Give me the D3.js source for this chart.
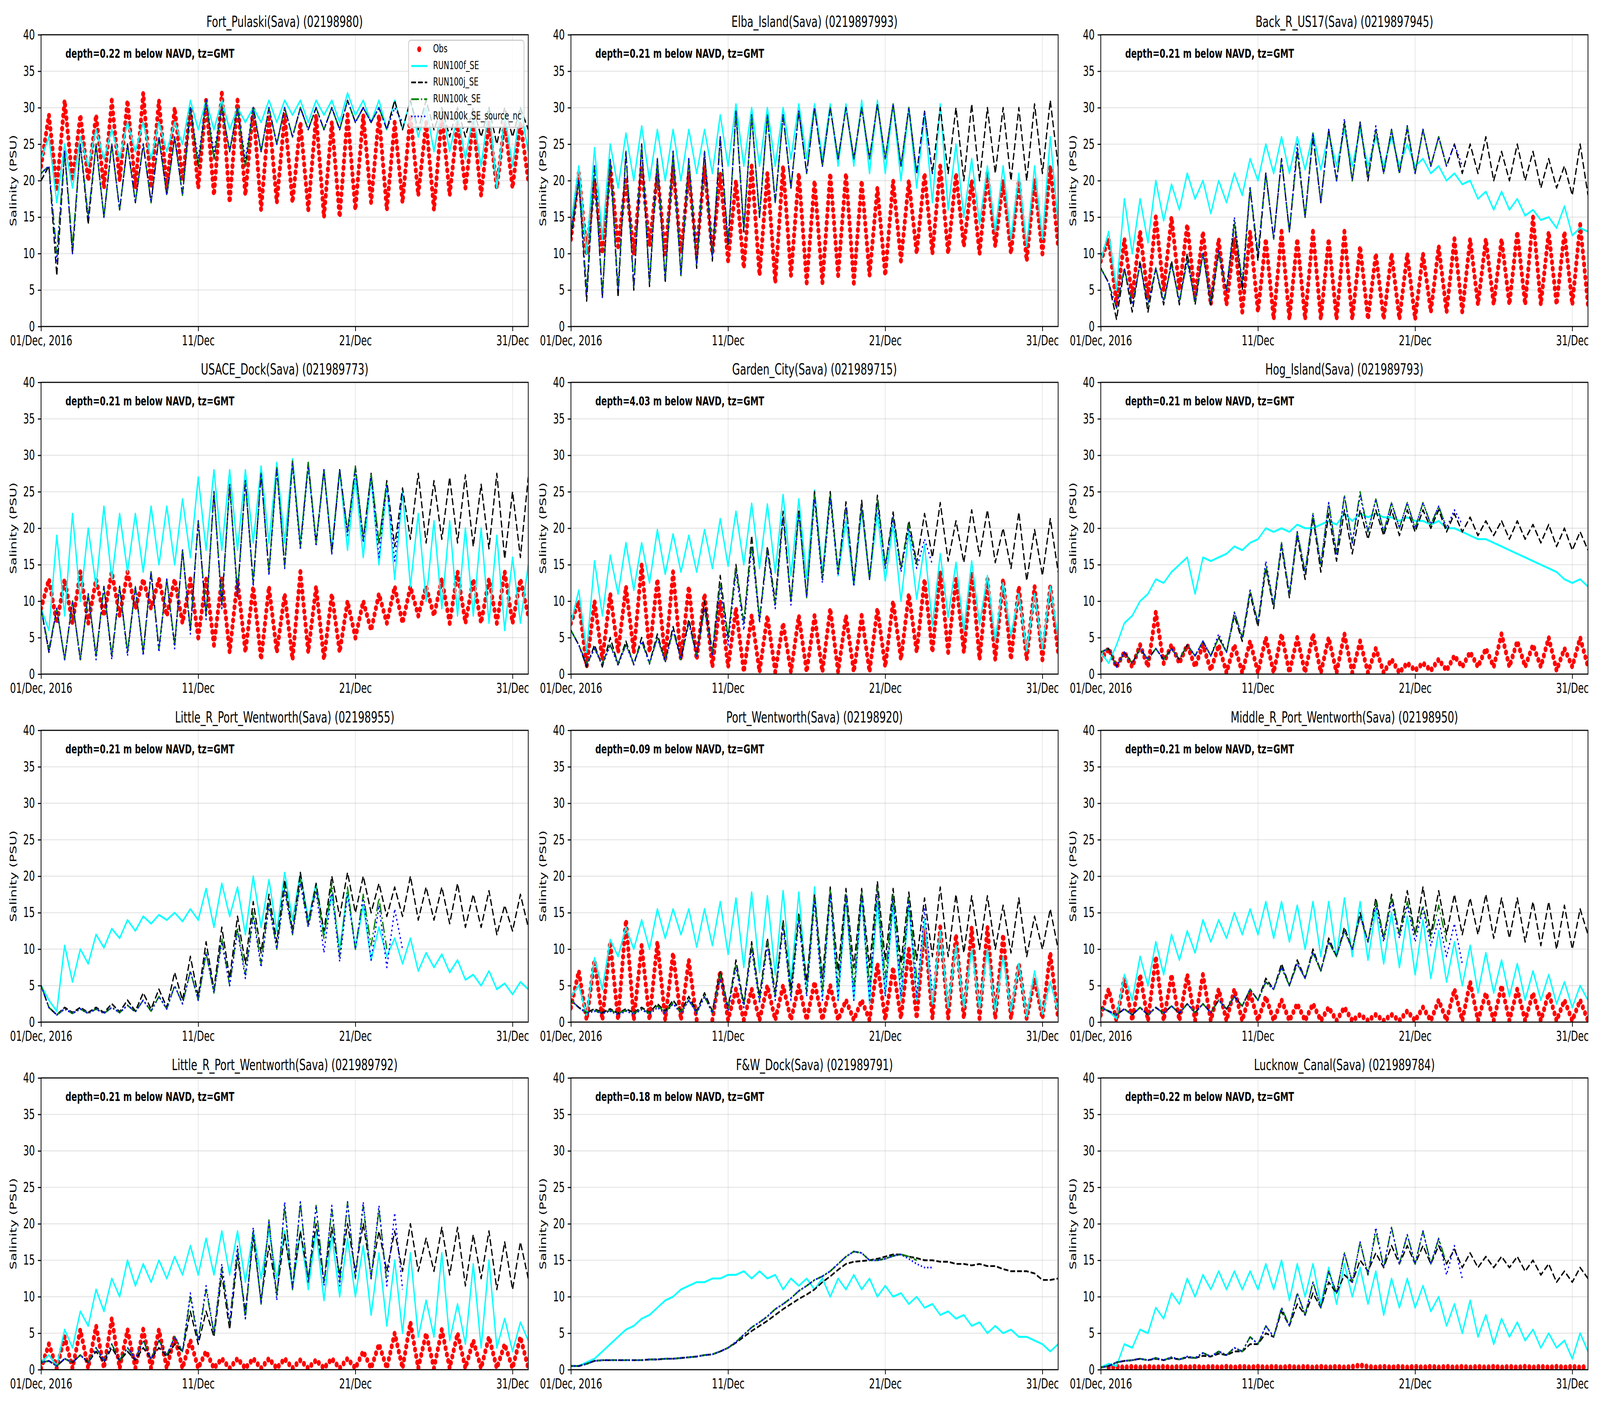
<!DOCTYPE html>
<html>
<head>
<meta charset="utf-8">
<script src="https://cdn.jsdelivr.net/npm/d3@7"></script>
<style>
  html, body { margin: 0; padding: 0; background: #fff; overflow: hidden; }
  svg { display: block; width: 100vw; height: 100vh; }
</style>
</head>
<body>
<div id="canvas"></div>
<script>
// titles, notes and tick labels
const stationTitles = [
  'Fort_Pulaski(Sava) (02198980)', 'Elba_Island(Sava) (0219897993)', 'Back_R_US17(Sava) (0219897945)',
  'USACE_Dock(Sava) (021989773)', 'Garden_City(Sava) (021989715)', 'Hog_Island(Sava) (021989793)',
  'Little_R_Port_Wentworth(Sava) (02198955)', 'Port_Wentworth(Sava) (02198920)', 'Middle_R_Port_Wentworth(Sava) (02198950)',
  'Little_R_Port_Wentworth(Sava) (021989792)', 'F&W_Dock(Sava) (021989791)', 'Lucknow_Canal(Sava) (021989784)'
]
const depthNotes = [
  'depth=0.22 m below NAVD, tz=GMT', 'depth=0.21 m below NAVD, tz=GMT', 'depth=0.21 m below NAVD, tz=GMT',
  'depth=0.21 m below NAVD, tz=GMT', 'depth=4.03 m below NAVD, tz=GMT', 'depth=0.21 m below NAVD, tz=GMT',
  'depth=0.21 m below NAVD, tz=GMT', 'depth=0.09 m below NAVD, tz=GMT', 'depth=0.21 m below NAVD, tz=GMT',
  'depth=0.21 m below NAVD, tz=GMT', 'depth=0.18 m below NAVD, tz=GMT', 'depth=0.22 m below NAVD, tz=GMT'
]
const seriesNames = ['Obs', 'RUN100f_SE', 'RUN100j_SE', 'RUN100k_SE', 'RUN100k_SE_source_nc']
const tickDays = [0, 10, 20, 30]
const tickLabels = ['01/Dec, 2016', '11/Dec', '21/Dec', '31/Dec']
const yTicks = [0, 5, 10, 15, 20, 25, 30, 35, 40]

// salinity (PSU), one reading every 12 h from 01/Dec 00:00
// Fort_Pulaski
const fpObs = [22,29,19,31,20,29,20,29,19,31, 20,31,19,32,19,31,19,30,20,30, 19,31,18,32,17,31,18,30,16,29, 17,29,17,28,16,29,15,28,15,29, 16,29,17,29,16,28,17,29,18,28, 16,29,18,28,19,28,18,28,19,28, 19,28,20]
const fpF = [23,26,17,25,19,26,22,27,23,27, 23,28,24,28,23,28,24,28,25,31, 27,31,27,31,27,30,28,30,28,31, 28,31,29,31,28,31,29,31,28,32, 29,31,28,31,27,31,27,31,26,30, 24,30,24,29,23,29,22,30,19,29, 22,30,24]
const fpJ = [20,22,7,24,10,25,14,25,15,25, 16,25,17,25,17,26,18,26,18,30, 22,31,23,30,24,30,22,30,24,30, 25,30,26,30,27,30,27,30,27,31, 28,30,28,30,27,31,27,31,27,31, 27,30,26,30,26,30,26,30,25,30, 26,30,27]
const fpK = [21,22,10,24,11,25,15,25,15,25, 16,25,17,25,17,26,18,26,18,30, 22,31,23,30,24,30,22,30,24,30, 25,30,26,30,27,30,27,30,27,31, 28,30,28,30,27]
const fpS = [21,22,9,24,10,25,15,25,15,25, 16,25,17,25,17,26,18,26,18,30, 23,31,24,30,24,30,23,30,24,30, 25,30,26,30,27,30,27,30,27,31, 28,30,28,30,27,30,28]
// Elba_Island
const elObs = [12,21,10,20,10,22,11,20,10,22, 11,21,10,22,10,21,10,22,10,21, 9,20,8,22,7,21,6,22,7,21, 6,20,6,21,7,21,6,20,7,19, 7,20,9,20,10,21,10,22,10,21, 11,20,10,21,11,20,10,20,9,20, 10,22,11]
const elF = [14,22,10,24.5,12,25,19,26.5,20,27.5, 20,27,20,27,20,27,21,27,21,29, 22,30.5,22,30,22,30,22,30,23,30.5, 23,30.5,23,30.5,22,30.5,22,31,21,31, 21,30.5,20,30,19,29,17,30.5,16,25, 15,23,14,22,13,22,12,21,11,22, 12,26,14]
const elJ = [12,20,3.5,22,4,23,4,24,5,25, 5.5,23,6,24,7,23,8,24,9,26, 11,29.5,13,29,15,29,17,29,19,29.5, 21,30,22,30,23,30,23,30,23,30.5, 23,30.5,22,30,21,29.5,21,30,21,30, 20,30.5,20,30,21,30,20,30,20,30.5, 21,31,22]
const elK = [13,20,5,22,4.5,23,5,24,5.5,25, 6,23,6.5,24,7,23,8.5,24,9.5,26, 11.5,29.5,13.5,29,15,29,17,29,19,29.5, 21,30,22,30,23,30,23,30,23,30.5, 23,30.5,22,30,21]
const elS = [13,20,4.5,22,4,23,5,24,5.5,25, 6,23,6.5,24,7,23,8.5,24,9.5,26, 11.5,29.5,13.5,29,15,29,17,29,19,29.5, 21,30,22,30,23,30,23,30,23,30.5, 23,30.5,22,30,21,29.5,21]
// Back_R_US17
const brObs = [9,12,3,12,4,13,4,15,5,15, 5,14,4,13,3,12,3,12,2,13, 2,12,1,13,1,12,1,13,1,12, 1,13,1,11,1,10,1,10,1,10, 1,10,2,11,2,12,2,12,3,12, 3,12,3,13,3,15,3,13,3,13, 3,14,3]
const brF = [9,13,5,17.5,10,17.5,11.5,20,14.5,19.5, 16,21,17.5,20,15.5,20,17,21,18,23, 20,25,21,26,21,26,21.5,26.5,21.5,26.5, 22,27,22,27,22,26,22,26,22,25, 22,23,21,22,20,21,19.5,20,17.5,18.5, 16,18.5,16,17.5,15.2,16,14.6,15,13.5,16.5, 12.5,13.5,13]
const brJ = [8,6,1,8,2,9,2,8,3,9, 3,10,3,10,3,10,5,14,5,19, 9,21,12,23,13,24,15,26,17,27, 20,28,20,28,20,27,21,27,21,27, 21,27,22,26,22,25,21,25,21,26, 20,24,20,25,20,24,19,23,19,22, 18,25,18]
const brK = [8,6,2.5,8,3,8.5,3,8,3.5,8.5, 3.5,9,3.5,10,3.5,10,5,14.5,6,19, 10,21,12,23,13,24.5,15,26.5,17,27, 20,28,20,28,20.5,27,21,27,21,27.5, 21,27,22,26,22]
const brS = [8,6,2.5,8,3,8.5,3,8,3.5,8.5, 3.5,9,3.5,10,3.5,10.5,5,15,6,19, 10,21,12,23,13,25,15,26.5,17,27, 20,28.5,20,28,20.5,27.5,21,27,21,27.5, 21,27,22,26,22,25,22]
// USACE_Dock
const udObs = [9,13,7,13,7,14,7,13,8,14, 8,14,9,13,9,13,8,13,7,13, 5,13,4,13,3,13,3,12,2,12, 3,11,2,14,3,12,2,11,3,10, 5,10,6,11,7,12,7,12,8,12, 8,13,7,14,7,13,7,13,7,14, 7,13,8]
const udF = [9,6,19,8,22,10,20,12,23,13, 22,14,22,14,23,15,23,15,24,16, 27,17,28,17,28,17,28,18,28.5,18, 29,18,29.5,18,28.5,18,28,17,28,17, 27,16,27,15,26,13,25,12,22,10, 21,9,21,8,20,8,20,7,19,6, 16,7,15]
const udJ = [9,3,9,2,10,2,11,2.5,12,2.5, 12,3,12,3,14,3.5,13,4,17,6, 21,8,25,9.5,26,11,26.5,12.5,27.5,14, 28.3,14.8,29.2,17.5,29,18,28,16.6,28,19.5, 28.5,18.5,27.5,18,26.5,17.5,25.5,18.5,27.5,18, 26.5,18.5,27,18,27.3,17.5,26,17.2,27.5,15.8, 25,16,27]
const udK = [9,3.5,9,2,10,2,11,2.5,12,2.5, 12,3,12,3,14,3.5,13,4,17,6, 21,8,25,9.5,26,11,26.5,12.5,27.5,14, 28.3,14.8,29.2,17.5,29,18,28,17,28,19.5, 28.5,18.5,27.5,18,26.5]
const udS = [9,3,9,2,10,1.8,11,2,12,2, 12,2.5,12,2.5,14,3,13,3.5,17,5.5, 21,7.5,25,9,26,10.5,26.5,12,27.5,13.5, 28,14.5,28.8,17,28.5,17.5,28,16.5,28,19, 28,18,27,16,26,15.5,25]
// Garden_City
const gcObs = [7,10,1,10,2,11,3,12,3,15, 3,13,2,14,2,12,2,11,1,10, 1,9,0.3,8,0.3,8,0.3,7,0.3,8, 0.3,8,0.3,9,0.3,8,0.3,8,0.3,9, 1,10,2,11,3,13,3,14,3,13, 3,14,2,13,2,13,2,12,2,12, 2,12,3]
const gcF = [7,11.5,3,15.5,8,16.3,11,18,11.5,18, 12.5,19.8,13.7,19.2,14,19,14,19.8,14.5,21.3, 14.8,22.3,15,23.4,14.5,23.3,13.9,24.6,13.5,24, 13.1,25.2,14,24.8,13.5,21,12.2,22.5,13.1,22, 12.8,20.5,10,19.5,10.3,17.7,6.6,16.5,7.8,15.3, 5.9,15.5,6.8,13.5,4.6,12.5,5.3,11,3.2,11, 3.5,12,5]
const gcJ = [6,4,1,4,1,5,1.3,4.5,1.3,5, 1.5,5.5,1.8,6.5,2,7.5,2.5,10,3,13.5, 5,15,7,19,7.5,17.5,10,22.3,10,22.6, 10.5,25,13,25,14,23.6,12.5,23.8,13,24.5, 14.8,22.2,14.5,21,15.3,22,16,23.5,15.5,21, 15.3,22.5,16.2,22.5,15.3,20,14.5,22.2,12.8,19.8, 13.5,21.3,14]
const gcK = [6,4,1.5,3.5,1.5,4,1.5,4,1.5,4.5, 1.5,5,1.8,6,2,7,2.5,9,3,12.5, 5,14.5,7,18,7.5,17,9.5,21.5,10,22, 10.5,24.5,13,24.5,14,23,12.5,23,13,24, 14.8,21.5,14.5,20.5,15]
const gcS = [6,4,1.2,3.5,1.2,4,1.2,4,1.3,4.5, 1.4,5,1.6,6,2,7,2.5,9,2.5,12, 4,14,6,17.5,7,17,9,21.5,9.5,22, 10.5,24,12.5,24,13.5,23,12,23,13,23.5, 14.5,21.5,14,20,14.5,18.5,15]
// Hog_Island
const hiObs = [2,3.5,1,3,1,4,1,8.5,1.5,4, 1.5,4,1,4,0.5,4,0.2,4,0.2,4.5, 0.2,5,0.2,5.5,0.2,5,0.2,5.5,0.2,5, 0.2,5.5,0.2,4.5,0.2,3.5,0.2,2,0.2,1.5, 0.5,1.5,0.5,2,0.5,2.5,1,3,1,3.5, 1,5.5,1,4.5,1,4,1,5,0.5,3.5, 1,5,1]
const hiF = [3,1.5,4,7,8,10,11,13,12.5,14, 15,16,11,16,15.5,16,16.5,17.5,17,18, 18.5,20,19.5,20,19.5,20.5,20,20,20.5,21, 20.5,22,21,22,21.5,22,21.5,21.5,21,21.5, 21,21,20.5,21,20,20,19.5,19,18.5,18.5, 18,17.5,17,16.5,16,15.5,15,14.5,14,13, 12.5,13,12]
const hiJ = [3,3.5,1,3,1.5,3.5,2,3.5,2,3.5, 2,4,2.5,4.5,2.5,5,3,8,4.5,11, 6.5,14.5,9,17.5,10.5,19,13,21.5,14,22, 15.5,22.5,16.5,22.5,18.5,22.5,19,22.5,19,22.5, 19.5,22.5,20,22.5,19.5,22,19.5,21.5,19,21, 19,21,18.5,21,18.5,20.5,18,20.5,17.5,20, 17,19.5,17]
const hiK = [3,3.5,1,3,1.5,3.5,2,3.5,2,3.5, 2,4,2.5,4.5,2.5,5,3,8.5,5,11.5, 7,15,9.5,18,11,19.5,14,22,15,23.5, 16.5,24.5,18,25,19.5,24,19.5,23.5,20,23.5, 20,23.5,20.5,23,20]
const hiS = [3,3.5,1,3,1.5,3.5,2,3.5,2,3.5, 2,4,2.5,4.5,2.5,5.5,3,8.5,5,11.5, 7,15.5,9.5,18,11,19.5,14,22,15,23.5, 16.5,24.5,18,24.5,19.5,24,19.5,23.5,20,23.5, 20,23.5,20.5,23,20,22.5,20.5]
// Little_R_Port_Wentworth (02198955), no observations
const lrF = [5,3,1.5,10.5,5.5,10,8,12,10.2,12.8, 11.5,14,12.5,14.5,13.5,14.7,14,15,13.8,15.5, 14,18.3,13,19,14.5,18.5,12,20,13,19.5, 12.5,20.5,14,20.5,14,19,12,17.5,10,18, 10,16,8.5,13,9,11.5,8,11.5,7,9.5, 7.5,9.3,6.8,8.5,5.8,6.5,5,7,4.5,5.3, 3.8,5.5,4.5]
const lrJ = [5,2,1,2,1.3,2,1.3,2,1.3,2.5, 1.4,3,1.5,4,1.8,4.5,2,6.8,3,9, 3.5,11,4.5,13,6,14.5,8,16.5,9.5,17.5, 11,19.5,12.5,20.5,13.5,19,12.5,20,14.5,20.5, 15,20,15,19,14.5,18.5,14.5,20,14,18.5, 14,18.5,13.5,19,13,17.5,13,18,12,16, 12.5,17.5,13]
const lrK = [5,2,1,1.8,1.2,1.8,1.2,1.8,1.2,2, 1.3,2.3,1.4,3,1.5,3.5,1.8,5,2.5,7, 3,9.5,4,11.5,5,13,6.5,15,8,16.5, 10,18.5,12,19.5,13,18.5,11.5,19,9,18.5, 10,17.5,10.5,17,10]
const lrS = [5,2,1,1.8,1.2,1.8,1.2,1.8,1.2,2, 1.3,2.3,1.4,3,1.5,3.5,1.8,5,2.5,7, 3,9.5,4,11,5,12.5,6,14.5,7.5,16, 10,18,12,19,13,18,9.5,18,8.3,17.5, 10,17,8.5,16,7.5,15.5,10]
// Port_Wentworth
const pwObs = [2,7,0.3,8.5,0.3,11,0.3,14,0.3,10.5, 0.3,11,0.3,9.5,0.3,8.5,0.3,null,0.3,7, 0.3,4.5,0.3,4.5,0.3,5,0.3,5,0.3,5, 0.3,5.5,0.3,5,0.3,3,0.3,3,0.3,8, 0.3,7.5,0.5,10,0.5,13,0.5,13,0.5,12, 0.5,13,0.5,13,0.5,12,0.5,8,0.5,6, 0.5,9.5,0.5]
const pwF = [3.5,5,1,8.8,4.5,11.3,9,13,10,14, 10,15.5,11.5,15.5,12,15.5,10.3,15.5,10.5,16.5, 9.3,17,7.5,17.8,6.8,17.3,6.5,18,5.5,17.8, 4.5,18.5,3.5,18,3,17,3,17.5,2.5,16.5, 3.7,16,3,16,3,14,2.5,12.5,2,10.5, 2,10,1.8,10,1.5,9,1.5,8,0.8,7, 1.1,5.5,1.5]
const pwJ = [3,2,1.3,1.8,1.3,1.8,1.2,1.8,1.3,2, 1.3,2.5,1.5,3,1.5,3.5,1.5,4,1.5,7, 2,8.5,2.5,11,3.5,11.5,4,14,4.5,15, 5.5,17.5,6,18.5,7,18.3,7.5,18.3,7.5,19.3, 8.5,18.3,8,17.8,8.5,17,9,18.5,9,17.5, 9.5,17.3,10,17.3,10,16,9.5,17,9,14.5, 10,15.5,10]
const pwK = [3,2,1.3,1.6,1.2,1.6,1.2,1.6,1.2,1.8, 1.2,2.2,1.4,2.6,1.4,3,1.3,3.5,1.3,6.5, 1.8,8,2.2,10.5,3,11,3.5,13.5,3.5,14.5, 4,17,4.5,18,5,17.5,5,17.8,5,18.5, 6,17.5,6,17,6]
const pwS = [3,2,1.2,1.5,1.2,1.5,1,1.5,1.1,1.7, 1.1,2,1.2,2.5,1.2,3,1.2,3.5,1.2,6, 1.5,7.5,2,10,2.5,10.5,3,13,3,14, 3.5,16.5,3,17.5,3,17.5,3,17.5,3,18, 3.5,17,3.5,16.5,3.5,15.5,4]
// Middle_R_Port_Wentworth
const mrObs = [1,4.5,0.2,6,0.2,6.5,0.2,9,0.2,6.5, 0.2,6.5,0.2,6.5,0.2,4.5,0.2,4.5,0.2,4, 0.2,3.5,0.2,3,0.2,2.5,0.2,2.5,0.2,2, 0.2,2,0.2,1,0.2,1,0.2,1,0.2,1.5, 0.2,2,0.2,3,0.2,4.5,0.2,5.5,0.2,4, 0.2,5,0.2,4.5,0.2,4,0.2,4,0.2,3, 0.2,3,0.2]
const mrF = [2,1.5,0.5,6.5,3,9,5,11,6.5,12, 8.5,12.5,9.5,14,11,14,11.5,15,12,15.5, 12,16.5,11.5,16.5,11,16,10,16.5,9,16.5, 9,17,9,16.5,8.5,15.5,8,15,7.5,14.5, 6.5,14,6,12.5,5.5,11,5,10.5,4,9.5, 4,8.5,3.5,8,3,7,3,6.5,2.5,5.5, 2,5,3]
const mrJ = [2,1.5,1,1.8,1,2,1,2,1.2,2.2, 1.2,2.5,1.3,2.5,1.3,3,1.8,3.5,2.2,4.5, 3,6,4.5,8,5,8.5,6,10,7,11.5, 9,13,10,15,11,17,11.5,17.5,12,18, 12,18.5,12,18,12,17.5,12,17,12,17.5, 11.5,17,11.5,17,11,16.5,10.5,16.5,10,16, 10,15.5,12]
const mrK = [2,1.5,1,1.8,1,2,1,2,1.2,2.2, 1.2,2.5,1.3,2.5,1.3,3,1.8,3.5,2.2,4.5, 3,5.5,4.5,7.5,5,8,6,9.5,7,11, 9,12.5,10,14.5,11,16.5,11.5,17,12,16.5, 12,16,11.5,16,11]
const mrS = [2,1.5,1,1.8,1,2,1,2,1.2,2.2, 1.2,2.5,1.3,2.5,1.3,3,1.8,3.5,2.2,4.5, 3,5.5,4.5,7.5,5,8,6,9.5,7,11, 9,12.5,10,14.5,11,16,11,16.5,11.5,16, 11,15.5,10.5,14,9,13.5,8]
// Little_R_Port_Wentworth (021989792)
const lwObs = [0.2,3.5,0.2,4.5,0.2,5.5,0.2,6,0.2,7, 0.2,5.5,0.2,5.5,0.2,5.5,0.2,4.5,0.2,4, 0.2,2.5,0.2,1.5,0.2,1.5,0.2,1.5,0.2,1.5, 0.2,1.5,0.2,1.3,0.2,1.3,0.2,1.5,0.2,1.5, 0.2,2.5,0.2,3.5,0.2,5,0.2,6.5,0.2,5, 0.2,5.5,0.2,5,0.2,4,0.2,4.5,0.2,3.5, 0.2,4.5,0.2]
const lwF = [1,2,0.5,5.5,3,8,6,11,8,12.5, 10,15,11.5,14.5,12,15,12.5,15.5,13,17, 13,18,13,19,13,19,12,19,12.5,19, 12.5,19,11,19,11,19,9.5,18.5,10,18, 10,17,7.5,16,6,15,5,16,4.5,9.5, 4.5,16,4,9,3.5,14.5,3,15,3,7, 2.5,6.5,4]
const lwJ = [1,1.2,0.5,1.5,1,2,1,2.5,1,3, 1.2,2.5,1.3,3,1.5,3,1.8,3.5,2.5,8, 3.5,8,4.5,13,5.5,15.5,8,18,9.5,17, 10.5,18.5,11.5,19,12.5,20,12,19.5,13,20, 13.5,20,13,19,13.5,19,13.5,20,13.5,18, 13.5,19.5,13,19.5,11.5,18.5,12.5,19,11,17.5, 11,17.5,12.5]
const lwK = [1,1.2,0.5,1.5,1,2,1,3,1.2,3.5, 1.3,3,1.5,4,1.5,4,2,4.5,2.5,10, 4,11,5,14,6.5,16.5,7,19,9,20.5, 10,22.5,11,23,12,22.5,12,22,12,23, 12.5,22.5,12.5,22,12]
const lwS = [1,1.2,0.5,1.5,1,2,1,3,1.2,3.5, 1.3,3,1.5,4,1.5,4,2,4.5,2.5,10.5, 4,11.5,5,14.5,6.5,17,7,19.5,9,20.5, 9.5,23,11,23,12,22.5,11.5,22.5,11.5,23, 12.5,23,12.5,22.5,11.5,21.5,11]
// F&W_Dock, no observations
const fwF = [0.5,0.5,1,1.5,2.5,3.5,4.5,5.5,6,7, 7.5,8.5,9.5,10,11,11.5,12,12,12.5,12.5, 13,13,13.5,12.5,13.5,12.5,13,11,12.5,11.5, 12.5,11,12.5,10,12.5,11,13,11,12.5,10, 11.5,10,10.5,9,10,8.5,9,7.5,8,7, 7.5,6,6.5,5,6,5,5.5,4.5,4.5,4, 3.5,2.5,3.5]
const fwJ = [0.5,0.5,0.8,1.2,1.3,1.3,1.3,1.3,1.3,1.3, 1.4,1.4,1.5,1.5,1.6,1.7,1.8,2,2.1,2.5, 3,3.7,4.5,5.3,6,6.7,7.5,8.3,9,9.7, 10.3,11,12,12.8,13.7,14.5,14.8,14.9,15,15.2, 15.5,15.8,15.8,15.5,15.3,15,15,14.8,14.8,14.5, 14.5,14.3,14.5,14.2,14.2,13.8,13.5,13.5,13.5,13.2, 12.3,12.3,12.5]
const fwK = [0.5,0.5,0.8,1.2,1.3,1.3,1.3,1.3,1.3,1.3, 1.4,1.4,1.5,1.5,1.6,1.7,1.8,2,2.1,2.5, 3,3.8,4.8,5.8,6.5,7.3,8.3,9,9.8,10.8, 11.5,12.3,12.8,13.5,14.5,15.5,16.2,16,15,15, 15.2,15.6,15.8,15.5,15]
const fwS = [0.5,0.5,0.8,1.2,1.3,1.3,1.3,1.3,1.3,1.3, 1.4,1.4,1.5,1.5,1.6,1.7,1.8,2,2.1,2.5, 3,3.8,4.8,5.8,6.5,7.3,8.3,9,9.8,10.8, 11.5,12.3,12.8,13.5,14.5,15.5,16.2,16,15,15, 15.2,15.6,15.8,15.2,14.5,14,14]
// Lucknow_Canal
const lcObs = [null,0.3,0.4,0.3,0.4,0.3,0.4,0.3,0.4,0.3, 0.4,0.3,0.4,0.3,0.4,0.3,0.4,0.3,0.4,0.3, 0.4,0.3,0.4,0.3,0.4,0.3,0.4,0.3,0.4,0.3, 0.4,0.3,0.4,0.6,0.4,0.3,0.4,0.3,0.4,0.3, 0.4,0.3,0.4,0.3,0.4,0.3,0.4,0.3,0.4,0.3, 0.4,0.3,0.4,0.3,0.4,0.3,0.4,0.3,0.4,0.3, 0.4,0.3,0.4]
const lcF = [0.3,0.8,0.5,3.5,3,5.5,5,8.5,7,10.5, 9,12.5,10,13,11,13.5,11,13.5,11,13.5, 11,14.5,11,15,9.5,14.5,10,14.5,9,14, 9,14.5,10,14,9,13.5,7.5,12.5,8.5,12.5, 8.5,11.5,8,10,6,9,5,9.5,4.5,7.5, 3.5,7,4.5,6.5,4,5.5,3,5,3,4, 1.5,5,2.5]
const lcJ = [0.3,0.5,1,1.2,1.3,1.5,1.3,1.5,1.3,1.6, 1.4,1.7,1.6,1.9,1.8,2.2,2,2.5,2.5,3.5, 3.5,5,4.5,8,6,9,7.5,10.5,8.5,12, 10.5,13,12,15,13.5,16,14,17,14.5,17, 14.5,17,14.5,17,14.5,16.5,14,16,14,15.5, 14,15.5,14,15.5,13.5,15,13,14.5,12,13.5, 12,14,12.5]
const lcK = [0.3,0.5,1,1.2,1.3,1.5,1.3,1.6,1.3,1.7, 1.4,1.8,1.6,2.3,1.8,2.5,2,3,2.5,4.5, 3.5,6,4.5,8.5,6,10.5,7.5,12,8.5,13.5, 10.5,16,12,17.5,13,19,14,19.5,14.5,18.5, 14.5,19,14.5,18,14.5]
const lcS = [0.3,0.5,1,1.2,1.3,1.5,1.3,1.6,1.3,1.7, 1.4,1.8,1.6,2.3,1.8,2.5,2,3,2.5,4.5, 3.5,6,4.5,8.5,6,10.5,7.5,12,8.5,13.5, 10.5,16,12,17.5,13,19.5,14,19.5,14.5,18.5, 14.5,19,14.5,18,13,17,12.5]

const panels = [
  { obs: fpObs, f: fpF, j: fpJ, k: fpK, s: fpS },
  { obs: elObs, f: elF, j: elJ, k: elK, s: elS },
  { obs: brObs, f: brF, j: brJ, k: brK, s: brS },
  { obs: udObs, f: udF, j: udJ, k: udK, s: udS },
  { obs: gcObs, f: gcF, j: gcJ, k: gcK, s: gcS },
  { obs: hiObs, f: hiF, j: hiJ, k: hiK, s: hiS },
  { obs: null, f: lrF, j: lrJ, k: lrK, s: lrS },
  { obs: pwObs, f: pwF, j: pwJ, k: pwK, s: pwS },
  { obs: mrObs, f: mrF, j: mrJ, k: mrK, s: mrS },
  { obs: lwObs, f: lwF, j: lwJ, k: lwK, s: lwS },
  { obs: null, f: fwF, j: fwJ, k: fwK, s: fwS },
  { obs: lcObs, f: lcF, j: lcJ, k: lcK, s: lcS }
]

const width = 6000
const height = 3600
const W = 1827
const H = 747
const colLeft = [154, 2141, 4128]
const rowTop = [89, 979, 1870, 2760]
const font = 'DejaVu Sans, sans-serif'

const start = new Date(Date.UTC(2016, 11, 1))
const timeAt = (i) => d3.utcHour.offset(start, 12 * i)

const x = d3.scaleUtc().domain([start, new Date(Date.UTC(2017, 0, 1))]).range([0, W])
const y = d3.scaleLinear().domain([0, 40]).range([H, 0])
const tickDates = tickDays.map((d) => d3.utcDay.offset(start, d))

const lineStyles = {
  f: { color: '#00ffff', dash: null, lw: 5 },
  j: { color: '#000000', dash: '18,7.5', lw: 4.6 },
  k: { color: '#008000', dash: '29,7.5,4.6,7.5', lw: 4.6 },
  s: { color: '#0000ff', dash: '4.6,7.5', lw: 4.6 },
}

const line = d3
  .line()
  .defined((v) => v != null)
  .x((v, i) => x(timeAt(i)))
  .y((v) => y(v))

// laid out in 6000x3600 units, stretched to fill the window
const svg = d3
  .select('#canvas')
  .append('svg')
  .attr('viewBox', `0 0 ${width} ${height}`)
  .attr('preserveAspectRatio', 'none')
svg.append('rect').attr('width', width).attr('height', height).attr('fill', '#fff')

panels.forEach((p, n) => {
  const left = colLeft[n % 3]
  const top = rowTop[Math.floor(n / 3)]
  const g = svg.append('g').attr('transform', `translate(${left},${top})`)

  g.append('clipPath').attr('id', `clip${n}`).append('rect').attr('width', W).attr('height', H)

  // grid
  g.append('g')
    .selectAll('line')
    .data(yTicks)
    .join('line')
    .attr('x1', 0)
    .attr('x2', W)
    .attr('y1', (d) => y(d))
    .attr('y2', (d) => y(d))
    .attr('stroke', '#b0b0b0')
    .attr('stroke-opacity', 0.3)
    .attr('stroke-width', 2.8)
  g.append('g')
    .selectAll('line')
    .data(tickDates)
    .join('line')
    .attr('x1', (d) => x(d))
    .attr('x2', (d) => x(d))
    .attr('y1', 0)
    .attr('y2', H)
    .attr('stroke', '#b0b0b0')
    .attr('stroke-opacity', 0.3)
    .attr('stroke-width', 2.8)

  const plot = g.append('g').attr('clip-path', `url(#clip${n})`)
  if (p.obs) {
    plot.append('path')
      .attr('d', line(p.obs))
      .attr('fill', 'none')
      .attr('stroke', '#ff0000')
      .attr('stroke-width', 15)
      .attr('stroke-linecap', 'round')
      .attr('stroke-dasharray', '0,17')
  }
  ;['f', 'j', 'k', 's'].forEach((key) => {
    plot.append('path')
      .attr('d', line(p[key]))
      .attr('fill', 'none')
      .attr('stroke', lineStyles[key].color)
      .attr('stroke-width', lineStyles[key].lw)
      .attr('stroke-linejoin', 'round')
      .attr('stroke-dasharray', lineStyles[key].dash)
  })

  // axes
  const xAxis = g.append('g')
    .attr('transform', `translate(0,${H})`)
    .call(d3.axisBottom(x).tickValues(tickDates).tickFormat((d, i) => tickLabels[i]).tickSize(12).tickPadding(11))
  const yAxis = g.append('g')
    .call(d3.axisLeft(y).tickValues(yTicks).tickSize(12).tickPadding(11))
  ;[xAxis, yAxis].forEach((a) => {
    a.attr('font-size', 34.7).attr('font-family', font)
    a.select('.domain').remove()
    a.selectAll('.tick line').attr('stroke-width', 2.8)
  })

  g.append('rect')
    .attr('width', W)
    .attr('height', H)
    .attr('fill', 'none')
    .attr('stroke', '#000')
    .attr('stroke-width', 2.8)

  g.append('text')
    .attr('x', W / 2)
    .attr('y', -20)
    .attr('text-anchor', 'middle')
    .attr('font-family', font)
    .attr('font-size', 38.2)
    .text(stationTitles[n])

  g.append('text')
    .attr('x', 0.05 * W)
    .attr('y', 50)
    .attr('dominant-baseline', 'middle')
    .attr('font-family', font)
    .attr('font-weight', 'bold')
    .attr('font-size', 31.2)
    .text(depthNotes[n])

  g.append('text')
    .attr('transform', `translate(-103,${H / 2}) rotate(-90)`)
    .attr('text-anchor', 'middle')
    .attr('dominant-baseline', 'middle')
    .attr('font-family', font)
    .attr('font-size', 34.7)
    .text('Salinity (PSU)')

  if (n === 0) {
    const lw = 433
    const lh = 223
    const leg = g.append('g').attr('transform', `translate(${W - 16 - lw},14)`)
    leg.append('rect')
      .attr('width', lw)
      .attr('height', lh)
      .attr('rx', 8)
      .attr('fill', '#fff')
      .attr('fill-opacity', 0.8)
      .attr('stroke', '#cccccc')
      .attr('stroke-width', 2.8)
    const rowY = [23, 66, 108, 151, 195]
    seriesNames.forEach((name, i) => {
      const ry = rowY[i]
      if (i === 0) {
        leg.append('circle').attr('cx', 40).attr('cy', ry).attr('r', 7.5).attr('fill', '#ff0000')
      } else {
        const st = lineStyles[['f', 'j', 'k', 's'][i - 1]]
        leg.append('line')
          .attr('x1', 10)
          .attr('x2', 70)
          .attr('y1', ry)
          .attr('y2', ry)
          .attr('stroke', st.color)
          .attr('stroke-width', st.lw)
          .attr('stroke-dasharray', st.dash)
      }
      leg.append('text')
        .attr('x', 92)
        .attr('y', ry)
        .attr('dominant-baseline', 'middle')
        .attr('font-family', font)
        .attr('font-size', 27.8)
        .text(name)
    })
  }
})
</script>
</body>
</html>
